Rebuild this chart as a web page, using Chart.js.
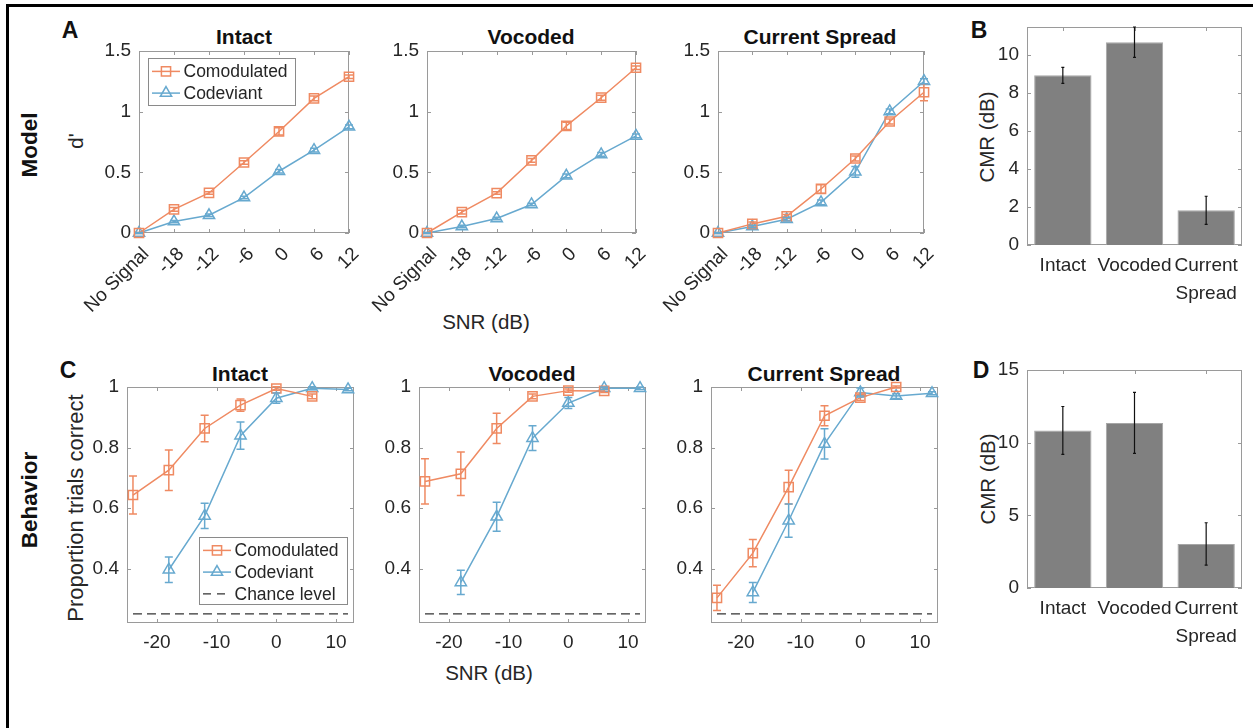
<!DOCTYPE html>
<html>
<head>
<meta charset="utf-8">
<script src="https://cdn.jsdelivr.net/npm/chart.js@4.4.0/dist/chart.umd.min.js"></script>
<style>
  html, body { margin: 0; padding: 0; background: #fff; }
  body { width: 1253px; height: 728px; position: relative; overflow: hidden;
         font-family: "Liberation Sans", Arial, Helvetica, sans-serif; color: #111; }
  canvas { position: absolute; }
  .frame { position: absolute; left: 6px; top: 4px; width: 1300px; height: 800px;
           border-left: 3px solid #000; border-top: 3px solid #000; }
  .t { position: absolute; white-space: nowrap; line-height: 1; transform: translate(-50%, -50%); }
  .rot { transform: translate(-50%, -50%) rotate(-90deg); }
  .letter { font-weight: bold; font-size: 23px; }
  .title { font-weight: bold; font-size: 21px; }
  .row { font-weight: bold; font-size: 22.5px; }
  .axis { font-size: 20.5px; color: #262626; }
</style>
</head>
<body>
<div class="frame"></div>

<div class="t letter" style="left:70px;top:30px">A</div>
<div class="t letter" style="left:979px;top:30px">B</div>
<div class="t letter" style="left:68px;top:370px">C</div>
<div class="t letter" style="left:981px;top:370px">D</div>

<div class="t row rot" style="left:30px;top:145px">Model</div>
<div class="t row rot" style="left:30px;top:500px">Behavior</div>

<div class="t title" style="left:244px;top:36px">Intact</div>
<div class="t title" style="left:531px;top:36px">Vocoded</div>
<div class="t title" style="left:820px;top:36px">Current Spread</div>
<div class="t title" style="left:240px;top:373px">Intact</div>
<div class="t title" style="left:532px;top:373px">Vocoded</div>
<div class="t title" style="left:824px;top:373px">Current Spread</div>

<div class="t axis rot" style="left:76px;top:141px">d'</div>
<div class="t axis rot" style="left:76px;top:508px;font-size:22px">Proportion trials correct</div>
<div class="t axis" style="left:486px;top:322px">SNR (dB)</div>
<div class="t axis" style="left:489px;top:673px">SNR (dB)</div>
<div class="t axis rot" style="left:987px;top:137px">CMR (dB)</div>
<div class="t axis rot" style="left:988px;top:479px">CMR (dB)</div>

<script>
'use strict';

// ---- data ----
const modelLabels = ['No Signal', '-18', '-12', '-6', '0', '6', '12'];
const modelTicksY = [0, 0.5, 1, 1.5];

const modelIntactComod = [0, 0.195, 0.33, 0.581, 0.837, 1.109, 1.288];
const modelIntactComodErr = [0.005, 0.015, 0.01, 0.015, 0.03, 0.02, 0.015];
const modelIntactCodev = [0, 0.094, 0.146, 0.292, 0.509, 0.683, 0.875];
const modelIntactCodevErr = [0.005, 0.01, 0.01, 0.01, 0.015, 0.015, 0.015];

const modelVocodedComod = [0, 0.172, 0.329, 0.598, 0.883, 1.115, 1.362];
const modelVocodedComodErr = [0.005, 0.015, 0.01, 0.015, 0.03, 0.02, 0.015];
const modelVocodedCodev = [0, 0.053, 0.119, 0.235, 0.471, 0.648, 0.80];
const modelVocodedCodevErr = [0.005, 0.01, 0.01, 0.01, 0.015, 0.015, 0.015];

const modelSpreadComod = [0, 0.075, 0.138, 0.363, 0.614, 0.919, 1.16];
const modelSpreadComodErr = [0.005, 0.015, 0.015, 0.035, 0.02, 0.02, 0.07];
const modelSpreadCodev = [0, 0.053, 0.113, 0.252, 0.504, 1.002, 1.251];
const modelSpreadCodevErr = [0.005, 0.01, 0.015, 0.02, 0.045, 0.02, 0.02];

const snrValues = [-24, -18, -12, -6, 0, 6, 12];
const behTicksX = [-20, -10, 0, 10];
const behTicksY = [0.4, 0.6, 0.8, 1];
const chanceLevel = 0.25;
const chanceSpan = [-24, 12];

const behIntactComod = [0.643, 0.725, 0.863, 0.94, 0.995, 0.969, null];
const behIntactComodErr = [0.063, 0.067, 0.044, 0.02, 0.006, 0.008, null];
const behIntactCodev = [null, 0.396, 0.574, 0.839, 0.963, 0.996, 0.992];
const behIntactCodevErr = [null, 0.042, 0.042, 0.045, 0.017, 0.005, 0.004];

const behVocodedComod = [0.688, 0.713, 0.863, 0.969, 0.988, 0.987, null];
const behVocodedComodErr = [0.075, 0.072, 0.05, 0.008, 0.005, 0.005, null];
const behVocodedCodev = [null, 0.354, 0.571, 0.831, 0.947, 0.996, 0.996];
const behVocodedCodevErr = [null, 0.04, 0.048, 0.041, 0.018, 0.004, 0.004];

const behSpreadComod = [0.303, 0.451, 0.669, 0.905, 0.965, 1.0, null];
const behSpreadComodErr = [0.042, 0.045, 0.056, 0.033, 0.01, 0.003, null];
const behSpreadCodev = [null, 0.321, 0.558, 0.812, 0.982, 0.97, 0.979];
const behSpreadCodevErr = [null, 0.033, 0.055, 0.05, 0.015, 0.008, 0.005];

const conditions = ['Intact', 'Vocoded', ['Current', 'Spread']];
const cmrModel = [8.91, 10.65, 1.82];
const cmrModelErr = [0.42, 0.8, 0.74];
const cmrModelTicks = [0, 2, 4, 6, 8, 10];
const cmrBehavior = [10.84, 11.36, 3.03];
const cmrBehaviorErr = [1.65, 2.1, 1.46];
const cmrBehaviorTicks = [0, 5, 10, 15];

// ---- styling ----
const ORANGE = '#ef8a62';
const BLUE = '#67a9cf';
const AXIS = '#9a9a9a';
const TEXT = '#262626';
const FONT = '"Liberation Sans", Arial, Helvetica, sans-serif';

Chart.defaults.font.family = FONT;
Chart.defaults.font.size = 19;
Chart.defaults.color = TEXT;

// matlab-ish box with inward ticks on all four sides
const matBox = {
  id: 'matBox',
  beforeDatasetsDraw(chart) {
    const { ctx, chartArea: a } = chart;
    const xs = chart.scales.x, ys = chart.scales.y;
    const tl = 4;
    ctx.save();
    ctx.strokeStyle = AXIS;
    ctx.lineWidth = 1;
    ctx.strokeRect(a.left + 0.5, a.top + 0.5, a.right - a.left - 1, a.bottom - a.top - 1);
    ctx.beginPath();
    xs.ticks.forEach((t, i) => {
      const x = Math.round(xs.getPixelForTick(i)) + 0.5;
      ctx.moveTo(x, a.bottom); ctx.lineTo(x, a.bottom - tl);
      ctx.moveTo(x, a.top); ctx.lineTo(x, a.top + tl);
    });
    ys.ticks.forEach((t, i) => {
      const y = Math.round(ys.getPixelForTick(i)) + 0.5;
      ctx.moveTo(a.left, y); ctx.lineTo(a.left + tl, y);
      ctx.moveTo(a.right, y); ctx.lineTo(a.right - tl, y);
    });
    ctx.stroke();
    ctx.restore();
  }
};

const errorBars = {
  id: 'errorBars',
  afterDatasetsDraw(chart) {
    const ctx = chart.ctx, ys = chart.scales.y;
    chart.data.datasets.forEach((ds, i) => {
      if (!ds.errors) return;
      const meta = chart.getDatasetMeta(i);
      ctx.save();
      ctx.strokeStyle = ds.errColor || ds.borderColor;
      ctx.lineWidth = ds.errWidth || 1.5;
      meta.data.forEach((el, j) => {
        const e = ds.errors[j];
        if (e == null) return;
        const raw = ds.data[j];
        const v = typeof raw === 'object' ? raw.y : raw;
        const x = el.x, y1 = ys.getPixelForValue(v + e), y2 = ys.getPixelForValue(v - e);
        const c = ds.errCap;
        ctx.beginPath();
        ctx.moveTo(x, y1); ctx.lineTo(x, y2);
        ctx.moveTo(x - c, y1); ctx.lineTo(x + c, y1);
        ctx.moveTo(x - c, y2); ctx.lineTo(x + c, y2);
        ctx.stroke();
      });
      ctx.restore();
    });
  }
};

// legend box drawn in page coordinates
const matLegend = {
  id: 'matLegend',
  afterDraw(chart, args, o) {
    if (!o || !o.items) return;
    const ctx = chart.ctx;
    const x = o.x - chart.canvas.offsetLeft, y = o.y - chart.canvas.offsetTop;
    ctx.save();
    ctx.fillStyle = '#fff';
    ctx.fillRect(x, y, o.w, o.h);
    ctx.strokeStyle = '#8a8a8a';
    ctx.lineWidth = 1;
    ctx.strokeRect(x + 0.5, y + 0.5, o.w, o.h);
    ctx.font = '17.5px ' + FONT;
    ctx.textBaseline = 'middle';
    o.items.forEach((it, k) => {
      const cy = y + 13.4 + 21.7 * k;
      ctx.strokeStyle = it.color;
      ctx.lineWidth = it.dash ? 1.2 : 1.5;
      ctx.setLineDash(it.dash || []);
      ctx.beginPath();
      ctx.moveTo(x + 4, cy); ctx.lineTo(x + 32, cy);
      ctx.stroke();
      ctx.setLineDash([]);
      if (it.marker) {
        ctx.fillStyle = 'rgba(0,0,0,0)';
        Chart.helpers.drawPoint(ctx, { pointStyle: it.marker, radius: 6.5, borderWidth: 1.5, rotation: 0 }, x + 18, cy);
      }
      ctx.fillStyle = TEXT;
      ctx.fillText(it.text, x + 35.5, cy + 1);
    });
    ctx.restore();
  }
};

Chart.register(matBox, errorBars, matLegend);

const M = { l: 95, t: 24, r: 30, b: 100 };

function place(rect, config) {
  const cv = document.createElement('canvas');
  const x = rect.l - M.l, y = rect.t - M.t;
  const w = rect.r - rect.l + M.l + M.r, h = rect.b - rect.t + M.t + M.b;
  cv.width = w; cv.height = h;
  cv.style.left = x + 'px'; cv.style.top = y + 'px';
  cv.style.width = w + 'px'; cv.style.height = h + 'px';
  document.body.appendChild(cv);
  const o = config.options;
  o.responsive = false;
  o.animation = false;
  o.layout = { padding: { left: 0, top: M.t, right: M.r, bottom: 0 } };
  o.plugins = Object.assign({ legend: { display: false }, tooltip: { enabled: false } }, o.plugins || {});
  o.scales.x.afterFit = s => { s.height = M.b; };
  o.scales.y.afterFit = s => { s.width = M.l; };
  return new Chart(cv.getContext('2d'), config);
}

function series(data, errors, color, marker) {
  return {
    data, errors,
    borderColor: color, backgroundColor: color,
    borderWidth: 1.5, tension: 0, clip: false,
    pointStyle: marker, pointRadius: 6.5, pointHoverRadius: 6.5,
    pointBorderWidth: 1.5, pointBorderColor: color,
    pointBackgroundColor: 'rgba(0,0,0,0)',
    errCap: 4
  };
}

function fixedTicks(list) {
  return s => { s.ticks = list.map(v => ({ value: v })); };
}
const plainNum = v => String(Number(v));

const hideGrid = { display: false, drawTicks: false };

function modelChart(rect, comod, comodErr, codev, codevErr, legend) {
  return place(rect, {
    type: 'line',
    data: {
      labels: modelLabels,
      datasets: [
        series(comod, comodErr, ORANGE, 'rect'),
        series(codev, codevErr, BLUE, 'triangle')
      ]
    },
    options: {
      plugins: legend ? { matLegend: legend } : {},
      scales: {
        x: { type: 'category', offset: false, grid: hideGrid, border: { display: false },
             ticks: { minRotation: 45, maxRotation: 45, autoSkip: false, padding: 10, labelOffset: 7 } },
        y: { min: 0, max: 1.5, grid: hideGrid, border: { display: false },
             afterBuildTicks: fixedTicks(modelTicksY), ticks: { padding: 8, callback: plainNum } }
      }
    }
  });
}

function pairs(vals, errs) {
  const d = [], e = [];
  snrValues.forEach((x, i) => {
    if (vals[i] == null) return;
    d.push({ x, y: vals[i] });
    e.push(errs[i]);
  });
  return { d, e };
}

function behaviorChart(rect, comod, comodErr, codev, codevErr, legend) {
  const a = pairs(comod, comodErr), b = pairs(codev, codevErr);
  return place(rect, {
    type: 'line',
    data: {
      datasets: [
        series(a.d, a.e, ORANGE, 'rect'),
        series(b.d, b.e, BLUE, 'triangle'),
        { data: chanceSpan.map(x => ({ x, y: chanceLevel })), borderColor: '#333',
          borderWidth: 1.2, borderDash: [9, 5], pointRadius: 0, clip: false }
      ]
    },
    options: {
      plugins: legend ? { matLegend: legend } : {},
      scales: {
        x: { type: 'linear', min: -25, max: 13, grid: hideGrid, border: { display: false },
             afterBuildTicks: fixedTicks(behTicksX), ticks: { padding: 8, maxRotation: 0, callback: plainNum } },
        y: { min: 0.22, max: 1, grid: hideGrid, border: { display: false },
             afterBuildTicks: fixedTicks(behTicksY), ticks: { padding: 8, callback: plainNum } }
      }
    }
  });
}

function cmrChart(rect, vals, errs, ymax, ticks) {
  return place(rect, {
    type: 'bar',
    data: {
      labels: conditions,
      datasets: [{
        data: vals, errors: errs,
        backgroundColor: '#808080', borderColor: '#a6a6a6', borderWidth: 1,
        barPercentage: 0.8, categoryPercentage: 1,
        errColor: '#111', errWidth: 1.2, errCap: 1.5
      }]
    },
    options: {
      scales: {
        x: { type: 'category', grid: hideGrid, border: { display: false },
             ticks: { padding: 7, maxRotation: 0, autoSkip: false, font: { size: 19, lineHeight: 1.45 } } },
        y: { min: 0, max: ymax, grid: hideGrid, border: { display: false },
             afterBuildTicks: fixedTicks(ticks), ticks: { padding: 8, callback: plainNum } }
      }
    }
  });
}

const legendA = {
  x: 148, y: 58, w: 147, h: 47,
  items: [
    { text: 'Comodulated', color: ORANGE, marker: 'rect' },
    { text: 'Codeviant', color: BLUE, marker: 'triangle' }
  ]
};
const legendC = {
  x: 199, y: 537, w: 148, h: 67,
  items: [
    { text: 'Comodulated', color: ORANGE, marker: 'rect' },
    { text: 'Codeviant', color: BLUE, marker: 'triangle' },
    { text: 'Chance level', color: '#333', dash: [8, 6] }
  ]
};

modelChart({ l: 139, t: 51, r: 349, b: 233 }, modelIntactComod, modelIntactComodErr, modelIntactCodev, modelIntactCodevErr, legendA);
modelChart({ l: 427, t: 51, r: 636, b: 233 }, modelVocodedComod, modelVocodedComodErr, modelVocodedCodev, modelVocodedCodevErr);
modelChart({ l: 718, t: 51, r: 924, b: 233 }, modelSpreadComod, modelSpreadComodErr, modelSpreadCodev, modelSpreadCodevErr);
cmrChart({ l: 1027, t: 27, r: 1242, b: 245 }, cmrModel, cmrModelErr, 11.45, cmrModelTicks);

behaviorChart({ l: 127, t: 387, r: 354, b: 623 }, behIntactComod, behIntactComodErr, behIntactCodev, behIntactCodevErr, legendC);
behaviorChart({ l: 419, t: 387, r: 646, b: 623 }, behVocodedComod, behVocodedComodErr, behVocodedCodev, behVocodedCodevErr);
behaviorChart({ l: 711, t: 387, r: 938, b: 623 }, behSpreadComod, behSpreadComodErr, behSpreadCodev, behSpreadCodevErr);
cmrChart({ l: 1027, t: 370, r: 1242, b: 588 }, cmrBehavior, cmrBehaviorErr, 15, cmrBehaviorTicks);
</script>
</body>
</html>
